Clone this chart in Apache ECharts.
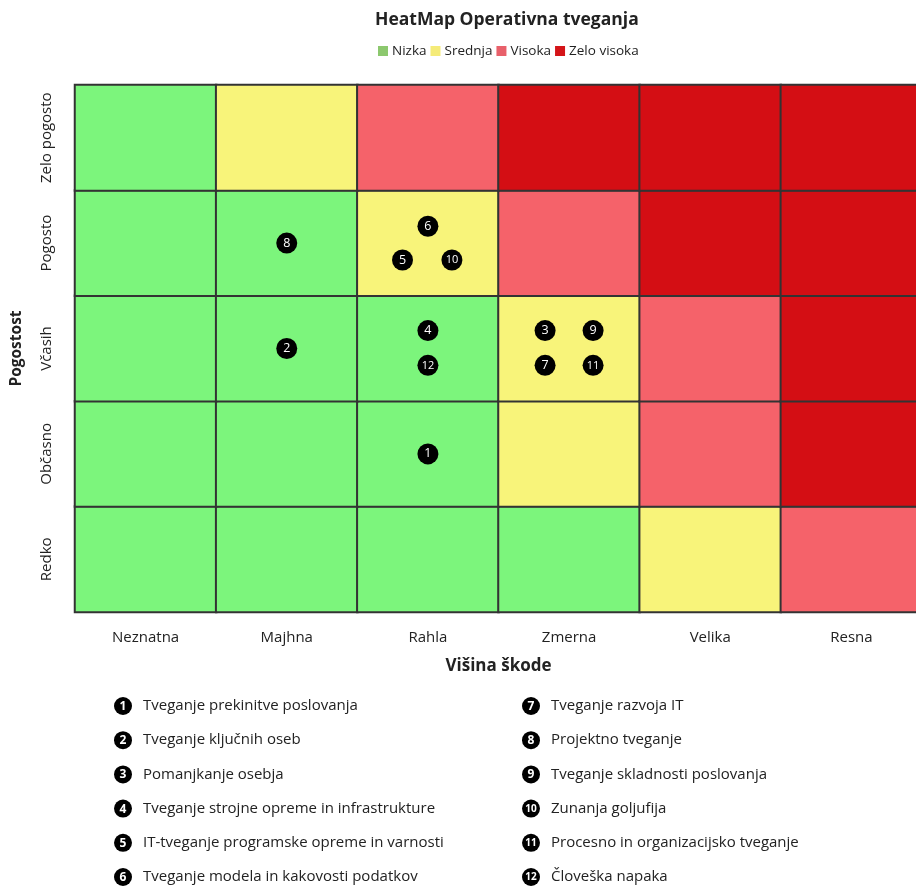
<!DOCTYPE html>
<html>
<head>
<meta charset="utf-8">
<script src="https://cdn.jsdelivr.net/npm/echarts@6/dist/echarts.min.js"></script>
<style>
  html, body { margin: 0; padding: 0; background: #fff; }
  #chart { width: 916px; height: 886px; }
</style>
</head>
<body>
<div id="chart"></div>
<script>
// Axis categories
const impactLabels = ['Neznatna', 'Majhna', 'Rahla', 'Zmerna', 'Velika', 'Resna'];
const frequencyLabels = ['Redko', 'Občasno', 'Včasih', 'Pogosto', 'Zelo pogosto'];

// Risk levels
const riskLevels = ['Nizka', 'Srednja', 'Visoka', 'Zelo visoka'];

// Level of each cell: one row per frequency (Redko first), one column per impact
const levelMatrix = [
  [0, 0, 0, 0, 1, 2],
  [0, 0, 0, 1, 2, 3],
  [0, 0, 0, 1, 2, 3],
  [0, 0, 1, 2, 3, 3],
  [0, 1, 2, 3, 3, 3]
];

// Individual risks (numbered 1..12)
const riskNames = [
  'Tveganje prekinitve poslovanja',
  'Tveganje ključnih oseb',
  'Pomanjkanje osebja',
  'Tveganje strojne opreme in infrastrukture',
  'IT-tveganje programske opreme in varnosti',
  'Tveganje modela in kakovosti podatkov',
  'Tveganje razvoja IT',
  'Projektno tveganje',
  'Tveganje skladnosti poslovanja',
  'Zunanja goljufija',
  'Procesno in organizacijsko tveganje',
  'Človeška napaka'
];
const riskImpact = [2, 1, 3, 2, 2, 2, 3, 1, 3, 2, 3, 2];
const riskFrequency = [1, 2, 2, 2, 3, 3, 2, 3, 2, 3, 2, 2];

// Placement of each marker inside its cell (fraction of a cell), so markers sharing a cell don't overlap
const markerSlots = [
  [0, 0], [0, 0], [-0.17, 0.17], [0, 0.17], [-0.18, -0.16], [0, 0.16],
  [-0.17, -0.16], [0, 0], [0.17, 0.17], [0.17, -0.16], [0.17, -0.16], [0, -0.16]
];

const cellColors = ['#7cf57c', '#f8f47a', '#f5626a', '#d40e14'];
const legendColors = ['#8cc86e', '#f5eb78', '#e8606a', '#d41418'];

const FONT = 'Open Sans';
const TEXT = '#222';

// One heatmap series per risk level
const heatSeries = riskLevels.map((name, lvl) => {
  const data = [];
  levelMatrix.forEach((row, fi) => row.forEach((v, ii) => { if (v === lvl) data.push([ii, fi, v]); }));
  return {
    name: name,
    type: 'heatmap',
    xAxisIndex: 0,
    yAxisIndex: 0,
    data: data,
    itemStyle: { color: cellColors[lvl], borderColor: '#333', borderWidth: 2 },
    emphasis: { disabled: true },
    z: 1
  };
});

const markerData = riskNames.map((n, i) => ({
  value: [riskImpact[i] + markerSlots[i][0], riskFrequency[i] + markerSlots[i][1]],
  label: { formatter: String(i + 1), fontSize: i >= 9 ? 11 : 12.5 }
}));

// Numbered key below the chart
const graphics = [];
riskNames.forEach((n, i) => {
  const col = i < 6 ? 0 : 1;
  const row = i % 6;
  const cx = col === 0 ? 123 : 531;
  const cy = 706 + row * 34.2;
  graphics.push({
    type: 'circle', shape: { cx: cx, cy: cy, r: 9 }, style: { fill: '#000' }
  });
  graphics.push({
    type: 'text', x: cx, y: cy + 0.5,
    style: { text: String(i + 1), fill: '#fff', font: (i >= 9 ? 'bold 10px ' : 'bold 12px ') + FONT, textAlign: 'center', textVerticalAlign: 'middle' }
  });
  graphics.push({
    type: 'text', x: cx + 20, y: cy,
    style: { text: n, fill: TEXT, font: '15px ' + FONT, textAlign: 'left', textVerticalAlign: 'middle' }
  });
});

const chart = echarts.init(document.getElementById('chart'), null, { renderer: 'canvas' });
chart.setOption({
  animation: false,
  backgroundColor: '#fff',
  textStyle: { fontFamily: FONT },
  title: {
    text: 'HeatMap Operativna tveganja',
    left: 370,
    top: 6,
    textStyle: { fontFamily: FONT, fontSize: 17.5, fontWeight: 'bold', color: TEXT }
  },
  legend: {
    left: 373,
    top: 39,
    itemWidth: 10,
    itemHeight: 10,
    itemGap: 4,
    icon: 'rect',
    selectedMode: false,
    itemStyle: { borderWidth: 0 },
    textStyle: { fontFamily: FONT, fontSize: 13.5, color: TEXT, padding: [0, 0, 0, -1] },
    data: riskLevels.map((n, i) => ({ name: n, itemStyle: { color: legendColors[i], borderWidth: 0 } }))
  },
  grid: { left: 75, top: 85, width: 847, height: 527, containLabel: false, outerBoundsMode: 'none' },
  xAxis: [
    {
      type: 'category',
      data: impactLabels,
      position: 'bottom',
      axisLine: { show: false },
      axisTick: { show: false },
      splitLine: { show: false },
      axisLabel: { fontFamily: FONT, fontSize: 15, color: TEXT, margin: 18, interval: 0 },
      name: 'Višina škode',
      nameLocation: 'middle',
      nameGap: 46,
      nameTextStyle: { fontFamily: FONT, fontSize: 17, fontWeight: 'bold', color: TEXT }
    },
    { type: 'value', min: -0.5, max: 5.5, show: false }
  ],
  yAxis: [
    {
      type: 'category',
      data: frequencyLabels,
      axisLine: { show: false },
      axisTick: { show: false },
      splitLine: { show: false },
      axisLabel: { fontFamily: FONT, fontSize: 15, color: TEXT, rotate: 90, margin: 21, interval: 0 },
      name: 'Pogostost',
      nameLocation: 'middle',
      nameGap: 50,
      nameRotate: 90,
      nameTextStyle: { fontFamily: FONT, fontSize: 15.5, fontWeight: 'bold', color: TEXT }
    },
    { type: 'value', min: -0.5, max: 4.5, show: false }
  ],
  series: heatSeries.concat([{
    name: 'Tveganja',
    type: 'scatter',
    xAxisIndex: 1,
    yAxisIndex: 1,
    symbol: 'circle',
    symbolSize: 21,
    itemStyle: { color: '#000', opacity: 1 },
    label: { show: true, position: 'inside', color: '#fff', fontFamily: FONT, fontSize: 12 },
    emphasis: { disabled: true },
    data: markerData,
    z: 5
  }]),
  graphic: graphics
});
</script>
</body>
</html>
